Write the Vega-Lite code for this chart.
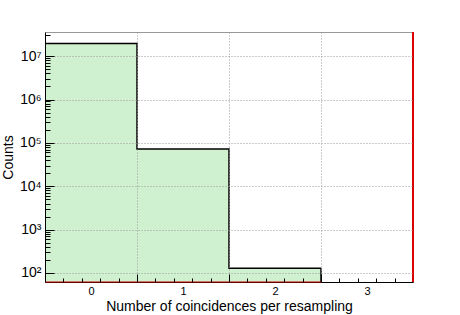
{
  "$schema": "https://vega.github.io/schema/vega-lite/v6.json",
  "width": 368,
  "height": 250,
  "autosize": "none",
  "padding": {"left": 45, "top": 32, "right": 47, "bottom": 33},
  "background": "#ffffff",
  "config": {
    "view": {"stroke": "#999999", "strokeWidth": 1},
    "axis": {
      "labelFont": "Liberation Sans",
      "titleFont": "Liberation Sans",
      "labelColor": "#000000",
      "titleColor": "#000000",
      "titleFontWeight": "normal",
      "tickColor": "#000000",
      "domainColor": "#000000"
    }
  },
  "datasets": {
    "hist": [
      {"bin": 0, "lo": -0.5, "hi": 0.5, "count": 19600000},
      {"bin": 1, "lo": 0.5, "hi": 1.5, "count": 72000},
      {"bin": 2, "lo": 1.5, "hi": 2.5, "count": 128}
    ]
  },
  "data": {"name": "hist"},
  "layer": [
    {
      "mark": {"type": "bar", "fill": "#d0f1d0", "strokeWidth": 0},
      "encoding": {
        "x": {
          "field": "lo",
          "type": "quantitative",
          "scale": {"domain": [-0.5, 3.5], "nice": false, "zero": false},
          "axis": {
            "orient": "bottom",
            "values": [0, 1, 2, 3],
            "ticks": false,
            "grid": false,
            "domain": true,
            "labelFontSize": 11,
            "labelPadding": 3,
            "title": "Number of coincidences per resampling",
            "titleFontSize": 14,
            "titlePadding": 3
          }
        },
        "x2": {"field": "hi"},
        "y": {
          "field": "count",
          "type": "quantitative",
          "scale": {"type": "log", "domain": [62, 36000000], "nice": false},
          "axis": {
            "orient": "left",
            "values": [100, 1000, 10000, 100000, 1000000, 10000000],
            "labelExpr": "'10' + ['⁰','¹','²','³','⁴','⁵','⁶','⁷','⁸','⁹'][round(log(datum.value)/LN10)]",
            "grid": true,
            "gridDash": [1, 2],
            "gridColor": "#999999",
            "tickSize": -9,
            "labelPadding": 13,
            "labelFontSize": 14,
            "zindex": 1,
            "title": "Counts",
            "titleFontSize": 14,
            "titleX": -30
          }
        },
        "y2": {"datum": 62}
      }
    },
    {
      "transform": [{"fold": ["lo", "hi"], "as": ["side", "edge"]}],
      "mark": {"type": "line", "color": "#000000", "strokeWidth": 1.5},
      "encoding": {
        "x": {
          "field": "edge",
          "type": "quantitative",
          "axis": {
            "orient": "bottom",
            "values": [-0.3, -0.1, 0.1, 0.3, 0.7, 0.9, 1.1, 1.3, 1.7, 1.9, 2.1, 2.3, 2.7, 2.9, 3.1, 3.3],
            "labels": false,
            "grid": false,
            "domain": false,
            "tickSize": -4,
            "zindex": 1,
            "title": null
          }
        },
        "y": {
          "field": "count",
          "type": "quantitative",
          "axis": {
            "orient": "left",
            "values": [200, 300, 400, 500, 600, 700, 800, 900, 2000, 3000, 4000, 5000, 6000, 7000, 8000, 9000, 20000, 30000, 40000, 50000, 60000, 70000, 80000, 90000, 200000, 300000, 400000, 500000, 600000, 700000, 800000, 900000, 2000000, 3000000, 4000000, 5000000, 6000000, 7000000, 8000000, 9000000, 20000000, 30000000],
            "labels": false,
            "grid": false,
            "domain": false,
            "tickSize": -5,
            "zindex": 1,
            "title": null
          }
        },
        "order": [{"field": "edge", "type": "quantitative"}, {"field": "bin", "type": "quantitative"}]
      }
    },
    {
      "transform": [{"filter": "datum.bin == 2"}],
      "mark": {"type": "rule", "color": "#000000", "strokeWidth": 1.5},
      "encoding": {
        "x": {
          "field": "hi",
          "type": "quantitative",
          "axis": {
            "orient": "bottom",
            "values": [0.5, 1.5, 2.5],
            "labels": false,
            "grid": true,
            "gridDash": [1, 2],
            "gridColor": "#999999",
            "domain": false,
            "tickSize": -8,
            "zindex": 1,
            "title": null
          }
        },
        "y": {"field": "count", "type": "quantitative", "axis": null},
        "y2": {"datum": 62}
      }
    },
    {
      "transform": [{"filter": "datum.bin == 0"}],
      "mark": {"type": "rule", "color": "#dd0000", "strokeWidth": 2},
      "encoding": {
        "x": {"datum": 3.5, "type": "quantitative", "axis": null}
      }
    },
    {
      "transform": [{"filter": "datum.bin == 0"}],
      "mark": {"type": "rule", "color": "#cc0000", "strokeWidth": 1},
      "encoding": {
        "x": {"datum": -0.5, "type": "quantitative", "axis": null},
        "x2": {"datum": 2.5},
        "y": {"datum": 62, "type": "quantitative", "axis": null}
      }
    }
  ],
  "resolve": {"axis": {"x": "independent", "y": "independent"}}
}
